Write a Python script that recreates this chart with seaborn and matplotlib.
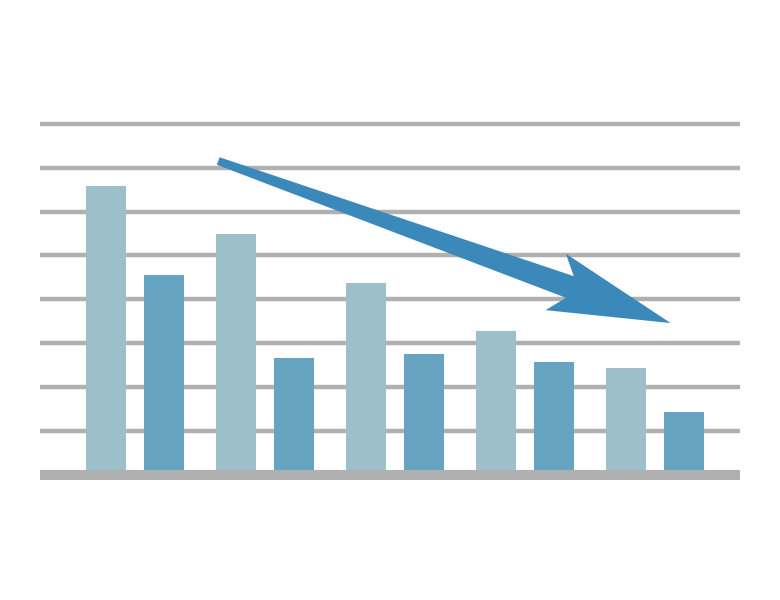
"""Grouped bar chart with a downward trend arrow."""
import matplotlib
matplotlib.use("Agg")
import matplotlib.pyplot as plt
import matplotlib.transforms as mtransforms
from matplotlib.patches import Polygon
import numpy as np
import pandas as pd
import seaborn as sns

groups = ["G1", "G2", "G3", "G4", "G5"]
series_a = [6.58, 5.49, 4.37, 3.28, 2.44]
series_b = [4.56, 2.67, 2.76, 2.57, 1.44]
grid_levels = [1, 2, 3, 4, 5, 6, 7, 8]

# trend arrow, in data units (x = group index, y = value)
arrow_tail = (0.64, 7.15)
arrow_tip = (4.12, 3.46)

LIGHT = "#9DBFCA"
DARK = "#66A4C2"
GRID = "#B0B0B0"
ARROW = "#3B88BB"

df = pd.DataFrame({
    "group": groups * 2,
    "series": ["a"] * len(groups) + ["b"] * len(groups),
    "value": series_a + series_b,
})

sns.set_theme(style="white")
fig = plt.figure(figsize=(7.8, 6), dpi=100)
ax = fig.add_axes([40 / 780, 100 / 600, 700 / 780, 400 / 600])

sns.barplot(data=df, x="group", y="value", hue="series", order=groups,
            hue_order=["a", "b"], palette=[LIGHT, DARK], saturation=1,
            width=0.892, gap=0.31, linewidth=0, legend=False, ax=ax, zorder=2)

for g in grid_levels:
    ax.axhline(g, color=GRID, lw=3.2, zorder=1)
ax.axhline(0, color=GRID, lw=7.2, zorder=3)

ax.set_xlim(-0.731, 4.654)
ax.set_ylim(-0.57, 8.54)
ax.set_axis_off()

# tapered arrow built in pixel space so the head is not skewed by the aspect
fig.canvas.draw()
p0 = ax.transData.transform(arrow_tail)
p1 = ax.transData.transform(arrow_tip)
u = (p1 - p0) / np.hypot(*(p1 - p0))
n = np.array([-u[1], u[0]])
tail_w, neck_w, head_w = 8, 23, 60
neck_back, barb_back = 107, 122
neck = p1 - u * neck_back
barb = p1 - u * barb_back
pts = [
    p0 + n * tail_w / 2,
    neck + n * neck_w / 2,
    barb + n * head_w / 2,
    p1,
    barb - n * head_w / 2,
    neck - n * neck_w / 2,
    p0 - n * tail_w / 2,
]
arrow = Polygon(pts, closed=True, facecolor=ARROW, edgecolor="none",
                transform=mtransforms.IdentityTransform(), zorder=5)
arrow.set_figure(fig)
fig.patches.append(arrow)

fig.savefig("out.png", dpi=100, facecolor="white")
